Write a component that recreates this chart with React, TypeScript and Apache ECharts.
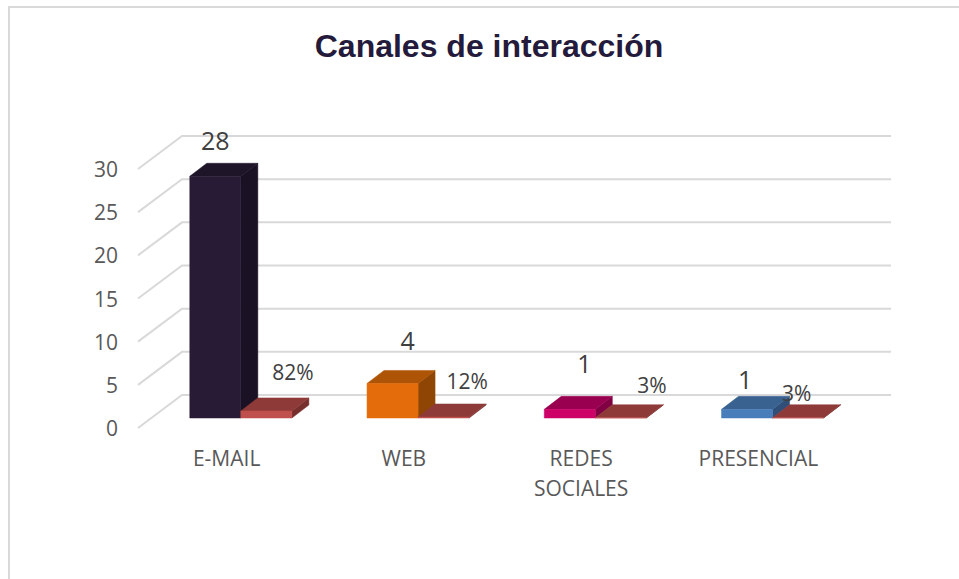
import React, { useEffect, useRef } from "react";
import * as echarts from "echarts";

const titleText = "Canales de interacción";
const categories = ["E-MAIL", "WEB", "REDES SOCIALES", "PRESENCIAL"];
const counts = [28, 4, 1, 1];
const shares = [0.82, 0.12, 0.03, 0.03];
const valueTicks = [0, 5, 10, 15, 20, 25, 30];

const frontColors = ["#281b35", "#e46c0a", "#cc0066", "#4a7ebb"];
const topColors = ["#1e1529", "#ae5406", "#990050", "#3a6290"];
const sideColors = ["#1a1124", "#8f4604", "#800043", "#2f4f78"];

const countOffsets = [[0, -36], [15, -43], [14.5, -46], [-2, -30]];
const shareOffsets = [[26.5, -39], [23.5, -36], [31, -33], [-1.5, -25]];

const FONT = '"Open Sans", sans-serif';
const WALL_DX = 44;
const WALL_DY = -33;
const FLOOR_DX = 14.2;
const FLOOR_DY = -10;
const BAR_DX = 17;
const BAR_DY = -13;
const BAR_RATIO = 0.288;

function box(
  x0: number, x1: number, yTop: number, yBase: number,
  front: string, top: string, side: string
) {
  const poly = (points: number[][], fill: string) => ({
    type: "polygon",
    shape: { points },
    style: { fill, stroke: fill, lineWidth: 0.5 },
  });
  return [
    poly([[x1, yTop], [x1 + BAR_DX, yTop + BAR_DY], [x1 + BAR_DX, yBase + BAR_DY], [x1, yBase]], side),
    poly([[x0, yTop], [x1, yTop], [x1 + BAR_DX, yTop + BAR_DY], [x0 + BAR_DX, yTop + BAR_DY]], top),
    poly([[x0, yTop], [x1, yTop], [x1, yBase], [x0, yBase]], front),
  ];
}

function barRenderer(
  values: number[], side: -1 | 1,
  colors: (i: number) => [string, string, string],
  format: (v: number) => string,
  offsets: number[][], fontSize: number
) {
  return (params: any, api: any) => {
    const i = api.value(0) as number;
    const v = api.value(1) as number;
    const [cx, yTop] = api.coord([i, v]);
    const [, yBase] = api.coord([i, 0]);
    const w = api.size([1, 0])[0] * BAR_RATIO;
    const center = cx + FLOOR_DX;
    const x0 = side < 0 ? center - w : center;
    const x1 = x0 + w;
    const top = yTop + FLOOR_DY;
    const base = yBase + FLOOR_DY;
    const [f, t, s] = colors(i);
    return {
      type: "group",
      children: [
        ...box(x0, x1, top, base, f, t, s),
        {
          type: "text",
          style: {
            text: format(values[i]),
            x: (x0 + x1) / 2 + offsets[i][0],
            y: top + offsets[i][1],
            fill: "#404040",
            font: `${fontSize}px ${FONT}`,
            align: "center",
            verticalAlign: "middle",
          },
        },
      ],
    };
  };
}

export default function App() {
  const ref = useRef<HTMLDivElement>(null);
  useEffect(() => {
    const chart = echarts.init(ref.current!, null, { renderer: "svg" });
    chart.setOption({
      animation: false,
      backgroundColor: "#ffffff",
      title: {
        text: titleText,
        left: 484,
        top: 41,
        textAlign: "center",
        textVerticalAlign: "middle",
        textStyle: {
          fontFamily: '"Liberation Sans", Arial, sans-serif',
          fontSize: 32,
          fontWeight: "bold",
          color: "#241a3b",
        },
      },
      graphic: [
        {
          type: "rect",
          shape: { x: 9, y: 7, width: 1100, height: 800 },
          style: { fill: "none", stroke: "#d9d9d9", lineWidth: 2 },
          silent: true,
          z: -1,
        },
      ],
      grid: { left: 138, top: 169, width: 709, height: 259 },
      xAxis: {
        type: "category",
        data: categories,
        axisLine: { show: false },
        axisTick: { show: false },
        splitLine: { show: false },
        axisLabel: {
          margin: 15,
          fontFamily: FONT,
          fontSize: 21,
          lineHeight: 30,
          color: "#595959",
          interval: 0,
          formatter: (s: string) => s.replace(" ", "\n"),
        },
      },
      yAxis: {
        type: "value",
        min: 0,
        max: 30,
        interval: 5,
        axisLine: { show: false },
        axisTick: { show: false },
        splitLine: { show: false },
        axisLabel: { margin: 20, fontFamily: FONT, fontSize: 21, color: "#595959" },
      },
      series: [
        {
          type: "custom",
          silent: true,
          z: 1,
          data: valueTicks.map((v) => [0, v]),
          encode: { x: 0, y: 1 },
          renderItem: (params: any, api: any) => {
            const [, y] = api.coord([0, api.value(1)]);
            const cs = params.coordSys;
            return {
              type: "polyline",
              shape: {
                points: [
                  [cs.x, y],
                  [cs.x + WALL_DX, y + WALL_DY],
                  [cs.x + cs.width + WALL_DX, y + WALL_DY],
                ],
              },
              style: { fill: "none", stroke: "#d9d9d9", lineWidth: 2 },
            };
          },
        },
        {
          type: "custom",
          silent: true,
          z: 2,
          data: counts.map((v, i) => [i, v]),
          encode: { x: 0, y: 1 },
          renderItem: barRenderer(
            counts, -1,
            (i) => [frontColors[i], topColors[i], sideColors[i]],
            (v) => String(v),
            countOffsets, 25
          ),
        },
        {
          type: "custom",
          silent: true,
          z: 3,
          data: shares.map((v, i) => [i, v]),
          encode: { x: 0, y: 1 },
          renderItem: barRenderer(
            shares, 1,
            () => ["#c0504d", "#8e3a38", "#762f2d"],
            (v) => `${Math.round(v * 100)}%`,
            shareOffsets, 21
          ),
        },
      ],
    });
    return () => chart.dispose();
  }, []);
  return (
    <div
      ref={ref}
      style={{ position: "absolute", left: 0, top: 0, width: 959, height: 579 }}
    />
  );
}
